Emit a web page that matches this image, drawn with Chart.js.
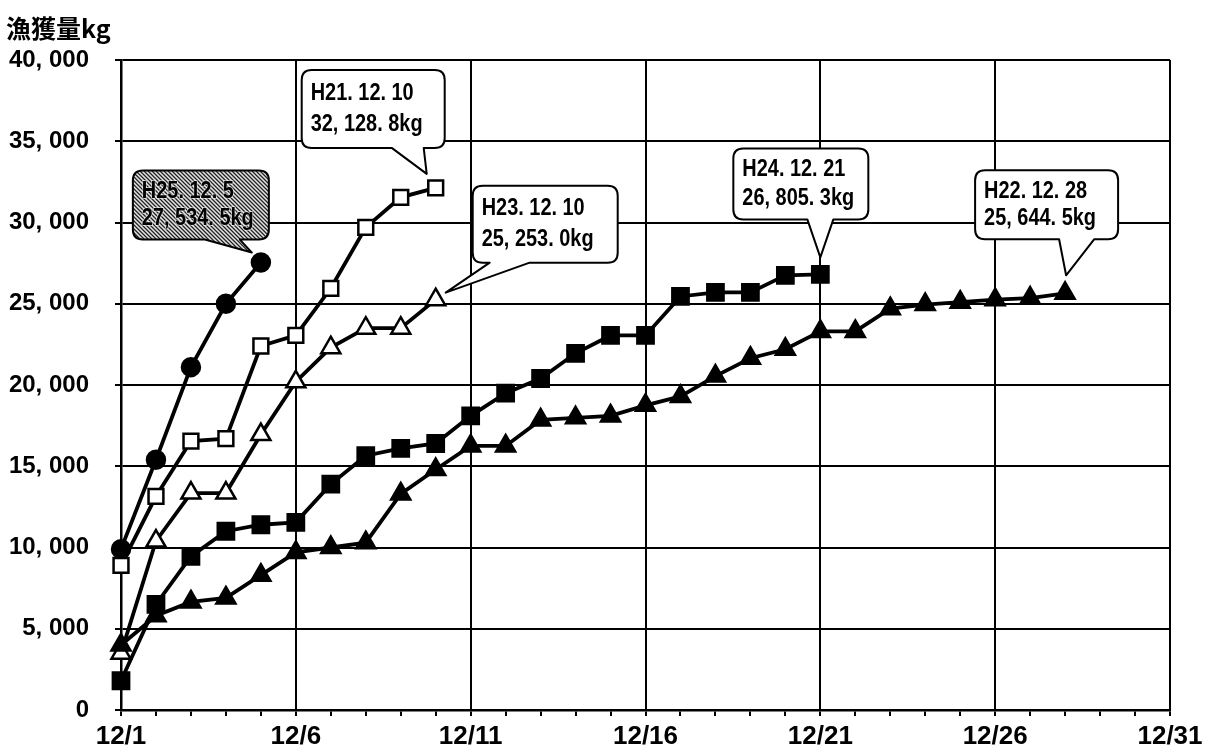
<!DOCTYPE html>
<html>
<head>
<meta charset="utf-8">
<script src="https://cdn.jsdelivr.net/npm/chart.js@4/dist/chart.umd.min.js"></script>
<style>
  html, body { margin: 0; padding: 0; background: #fff; }
  #wrap { width: 1209px; height: 753px; position: relative; }
</style>
</head>
<body>
<div id="wrap"><canvas id="c"></canvas></div>
<script>
// December dates on the horizontal axis
const dayLabels = [];
for (let d = 1; d <= 31; d++) dayLabels.push('12/' + d);

// cumulative catch (kg) per season, day by day from 12/1
const seriesNames = ['H21', 'H22', 'H23', 'H24', 'H25'];
const h21 = [8900, 13150, 16550, 16700, 22400, 23050, 25950, 29700, 31550, 32128.8];
const h22 = [4000, 5800, 6650, 6900, 8300, 9700, 10000, 10300, 13300, 14800,
             16250, 16250, 17850, 17980, 18100, 18750, 19300, 20550, 21650, 22200,
             23300, 23300, 24700, 24950, 25100, 25250, 25350, 25644.5];
const h23 = [3500, 10400, 13350, 13350, 16950, 20200, 22300, 23500, 23500, 25253.0];
const h24 = [1800, 6500, 9450, 11000, 11400, 11550, 13900, 15650, 16100, 16400,
             18100, 19500, 20400, 21950, 23050, 23050, 25450, 25700, 25700, 26750, 26805.3];
const h25 = [9900, 15400, 21100, 25000, 27534.5];

const yTickStep = 5000;
const yMax = 40000;

const AXIS_FONT = '"Liberation Sans", Arial, sans-serif';

function fmtThousands(n) {
  return Math.round(n).toString().replace(/\B(?=(\d{3})+(?!\d))/g, ', ');
}
function fmtKg(v) {
  const s = v.toFixed(1).split('.');
  return fmtThousands(+s[0]) + '. ' + s[1] + 'kg';
}

// stippled grey fill for the highlighted callout
function makeStipple(ctx) {
  const p = document.createElement('canvas');
  p.width = 4; p.height = 4;
  const g = p.getContext('2d');
  const map = [[0,1,0,2],[2,0,1,0],[0,2,0,1],[1,0,2,0]];
  const cols = ['#8e8e8e', '#222222', '#e4e4e4'];
  for (let r = 0; r < 4; r++) for (let c = 0; c < 4; c++) {
    g.fillStyle = cols[map[r][c]];
    g.fillRect(c, r, 1, 1);
  }
  return ctx.createPattern(p, 'repeat');
}

// callout boxes anchored to the last point of a season
const calloutLayout = [
  { ds: 4, dx: -128, dy: -92,  w: 136, h: 69, b1: -56, b2: -21, tipX: -9, tipY: -10, shaded: true },
  { ds: 0, dx: -134, dy: -118, w: 143, h: 78, b1: -44, b2: -12, tipX: -9, tipY: -14 },
  { ds: 2, dx: 37,   dy: -114, w: 145, h: 77, b1: 54,  b2: 94,  tipX: 10, tipY: -7 },
  { ds: 3, dx: -87,  dy: -126, w: 135, h: 71, b1: -13, b2: 13,  tipX: 0,  tipY: -17 },
  { ds: 1, dx: -90,  dy: -123, w: 143, h: 69, b1: -6,  b2: 29,  tipX: 1,  tipY: -18 }
];

function calloutPath(ctx, x, y, w, h, r, bx1, bx2, tx, ty) {
  ctx.beginPath();
  ctx.moveTo(x + r, y);
  ctx.lineTo(x + w - r, y);
  ctx.quadraticCurveTo(x + w, y, x + w, y + r);
  ctx.lineTo(x + w, y + h - r);
  ctx.quadraticCurveTo(x + w, y + h, x + w - r, y + h);
  ctx.lineTo(bx2, y + h);
  ctx.lineTo(tx, ty);
  ctx.lineTo(bx1, y + h);
  ctx.lineTo(x + r, y + h);
  ctx.quadraticCurveTo(x, y + h, x, y + h - r);
  ctx.lineTo(x, y + r);
  ctx.quadraticCurveTo(x, y, x + r, y);
  ctx.closePath();
}

// narrow, tall lettering: horizontally compressed text
function narrowText(ctx, text, x, y, sx, outline) {
  ctx.save();
  ctx.translate(x, y);
  ctx.scale(sx, 1);
  if (outline) {
    ctx.lineWidth = 2;
    ctx.strokeStyle = 'rgba(255,255,255,0.55)';
    ctx.strokeText(text, 0, 0);
  }
  ctx.fillText(text, 0, 0);
  ctx.restore();
}

const calloutPlugin = {
  id: 'callouts',
  afterDatasetsDraw(chart) {
    const ctx = chart.ctx;
    ctx.save();
    calloutLayout.forEach(c => {
      const ds = chart.data.datasets[c.ds];
      const meta = chart.getDatasetMeta(c.ds);
      const last = ds.data.length - 1;
      const pt = meta.data[last];
      const bx = pt.x + c.dx, by = pt.y + c.dy;
      calloutPath(ctx, bx, by, c.w, c.h, 10, pt.x + c.b1, pt.x + c.b2, pt.x + c.tipX, pt.y + c.tipY);
      ctx.fillStyle = c.shaded ? makeStipple(ctx) : '#fff';
      ctx.fill();
      ctx.lineWidth = 2;
      ctx.strokeStyle = '#000';
      ctx.lineJoin = 'round';
      ctx.stroke();
      const line1 = seriesNames[c.ds] + '. 12. ' + (last + 1);
      const line2 = fmtKg(ds.data[last]);
      ctx.font = 'bold 24px ' + AXIS_FONT;
      ctx.textAlign = 'left';
      ctx.textBaseline = 'middle';
      ctx.fillStyle = '#000';
      narrowText(ctx, line1, bx + 9, by + c.h * 0.3, 0.83, c.shaded);
      narrowText(ctx, line2, bx + 9, by + c.h * 0.7, 0.83, c.shaded);
    });
    ctx.restore();
  },
  afterDraw(chart) {
    const ctx = chart.ctx;
    ctx.save();
    ctx.fillStyle = '#000';
    ctx.font = 'bold 25px "Noto Sans CJK JP", sans-serif';
    ctx.textAlign = 'left';
    ctx.textBaseline = 'middle';
    ctx.fillText('漁獲量kg', 6, 28);
    ctx.restore();
  },
  beforeDraw(chart) {
    const ctx = chart.ctx;
    ctx.save();
    ctx.fillStyle = '#fff';
    ctx.fillRect(0, 0, chart.width, chart.height);
    ctx.restore();
  }
};

function seriesStyle(style, filled, radius) {
  return {
    borderColor: '#000',
    borderWidth: 3.8,
    pointStyle: style,
    pointRadius: radius,
    pointBorderWidth: 2.5,
    pointBorderColor: '#000',
    pointBackgroundColor: filled ? '#000' : '#fff',
    tension: 0,
    fill: false
  };
}

new Chart(document.getElementById('c'), {
  type: 'line',
  data: {
    labels: dayLabels,
    datasets: [
      Object.assign({ label: seriesNames[0], data: h21 }, seriesStyle('rect', false, 10.5)),
      Object.assign({ label: seriesNames[1], data: h22 }, seriesStyle('triangle', true, 11)),
      Object.assign({ label: seriesNames[2], data: h23 }, seriesStyle('triangle', false, 11)),
      Object.assign({ label: seriesNames[3], data: h24 }, seriesStyle('rect', true, 11.5)),
      Object.assign({ label: seriesNames[4], data: h25 }, seriesStyle('circle', true, 9))
    ]
  },
  options: {
    responsive: true,
    maintainAspectRatio: false,
    animation: false,
    events: [],
    layout: { padding: { top: 60, right: 39, left: 0, bottom: 0 } },
    plugins: { legend: { display: false }, tooltip: { enabled: false } },
    scales: {
      x: {
        type: 'category',
        offset: false,
        afterFit(scale) { scale.height = 43; },
        border: { display: true, color: '#000', width: 2.5 },
        grid: {
          color: ctx => (ctx.index % 5 === 0 ? '#000' : 'rgba(0,0,0,0)'),
          tickColor: '#000',
          lineWidth: 2,
          tickLength: 6,
          drawOnChartArea: true
        },
        ticks: {
          autoSkip: false,
          maxRotation: 0,
          padding: 5,
          color: '#000',
          font: { family: AXIS_FONT, size: 26, weight: 'bold' },
          callback(value, index) { return index % 5 === 0 ? this.getLabelForValue(value) : ''; }
        }
      },
      y: {
        min: 0,
        max: yMax,
        afterFit(scale) { scale.width = 121; },
        border: { display: true, color: '#000', width: 2.5 },
        grid: { color: '#000', lineWidth: 2, tickLength: 6 },
        ticks: {
          stepSize: yTickStep,
          padding: 26,
          color: '#000',
          font: { family: AXIS_FONT, size: 24, weight: 'bold' },
          callback: v => fmtThousands(v)
        }
      }
    }
  },
  plugins: [calloutPlugin]
});
</script>
</body>
</html>
